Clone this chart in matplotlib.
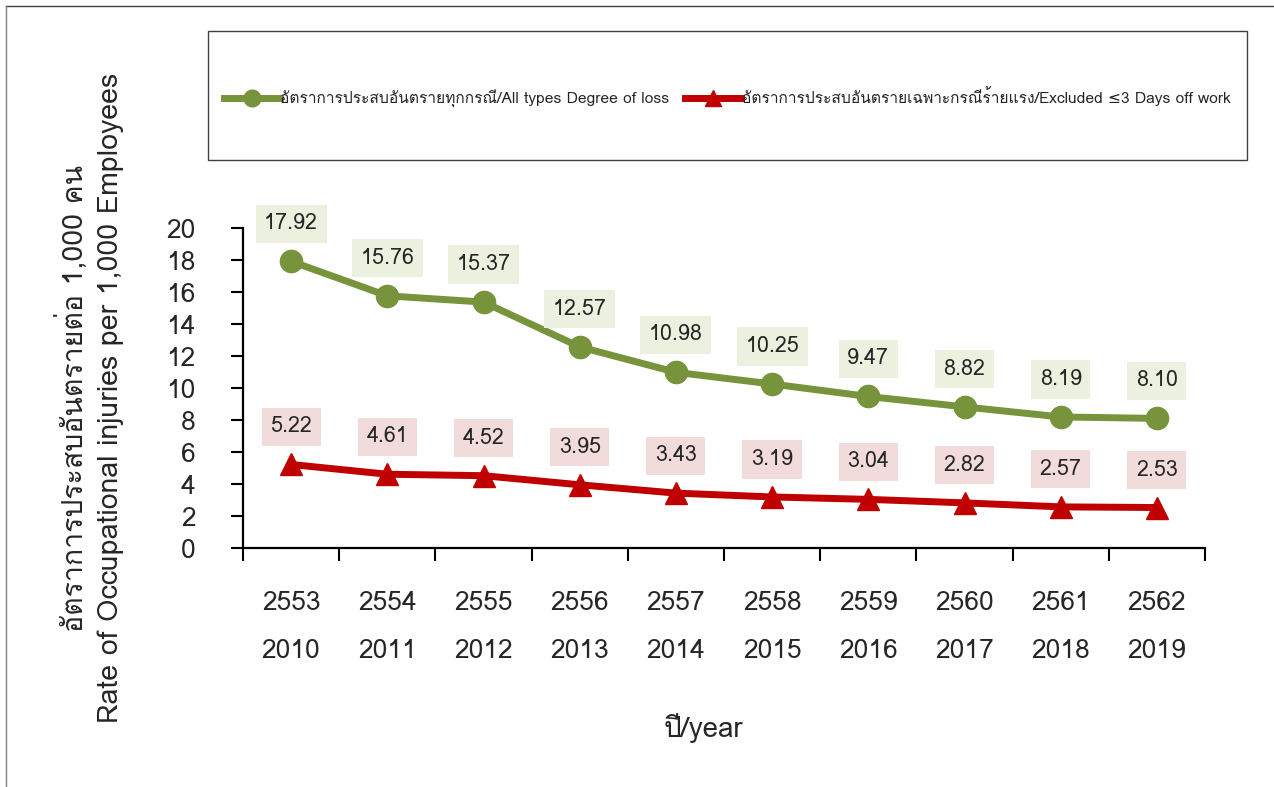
import matplotlib
matplotlib.use("Agg")
import matplotlib.pyplot as plt
from matplotlib import font_manager
from matplotlib.ft2font import FT2Font
from matplotlib.lines import Line2D
from matplotlib.patches import Rectangle

# ---------------- data ----------------
years_be = ["2553", "2554", "2555", "2556", "2557", "2558", "2559", "2560", "2561", "2562"]
years_ad = ["2010", "2011", "2012", "2013", "2014", "2015", "2016", "2017", "2018", "2019"]
all_types = [17.92, 15.76, 15.37, 12.57, 10.98, 10.25, 9.47, 8.82, 8.19, 8.10]
excluded = [5.22, 4.61, 4.52, 3.95, 3.43, 3.19, 3.04, 2.82, 2.57, 2.53]
label_all = "อัตราการประสบอันตรายทุกกรณี/All types Degree of loss"
label_exc = "อัตราการประสบอันตรายเฉพาะกรณีร้ายแรง/Excluded ≤3 Days off work"
ylabel = "อัตราการประสบอันตรายต่อ 1,000 คน\nRate of Occupational injuries per 1,000 Employees"
xlabel = "ปี/year"
yticks = [0, 2, 4, 6, 8, 10, 12, 14, 16, 18, 20]

# ---------------- fonts ----------------
thai_family = None
for fe in font_manager.fontManager.ttflist:
    try:
        f = FT2Font(fe.fname)
        if f.get_char_index(0x0E2D) and f.get_char_index(0x0E31):
            thai_family = fe.name
            break
    except Exception:
        continue
families = ([thai_family] if thai_family else []) + ["DejaVu Sans"]
plt.rcParams["font.family"] = families

GREEN = "#77933c"
RED = "#c00000"
GREEN_BG = "#ebf1de"
RED_BG = "#f2dcdb"
TXT = "#262626"

W, H = 1274, 787
fig = plt.figure(figsize=(W / 100, H / 100), dpi=100)
ax = fig.add_axes([243 / W, 1 - 548 / H, (1205 - 243) / W, (548 - 228) / H])

x = list(range(len(years_be)))
ax.plot(x, all_types, color=GREEN, lw=5, marker="o", ms=16, solid_capstyle="round",
        label=label_all, zorder=3)
ax.plot(x, excluded, color=RED, lw=5, marker="^", ms=16, solid_capstyle="round",
        label=label_exc, zorder=3)

for xi, v in zip(x, all_types):
    ax.annotate(f"{v:.2f}", (xi, v), xytext=(0, 27), textcoords="offset points",
                ha="center", va="center", fontsize=15.5, color=TXT,
                bbox=dict(boxstyle="square,pad=0.4", fc=GREEN_BG, ec="none"), zorder=4)
for xi, v in zip(x, excluded):
    ax.annotate(f"{v:.2f}", (xi, v), xytext=(0, 27), textcoords="offset points",
                ha="center", va="center", fontsize=15.5, color=TXT,
                bbox=dict(boxstyle="square,pad=0.4", fc=RED_BG, ec="none"), zorder=4)

ax.set_xlim(-0.5, len(x) - 0.5)
ax.set_ylim(0, 20)
ax.set_yticks(yticks)
ax.set_yticklabels([str(t) for t in yticks], fontsize=19, color=TXT)
ax.set_xticks(x)
ax.set_xticklabels([f"{b}\n{a}" for b, a in zip(years_be, years_ad)], fontsize=19,
                   linespacing=2.25, color=TXT)
ax.set_xticks([i - 0.5 for i in range(len(x) + 1)], minor=True)
ax.tick_params(axis="x", which="major", length=0, pad=31)
ax.tick_params(axis="x", which="minor", length=9, width=1.5, direction="out")
ax.tick_params(axis="y", length=9, width=1.5, direction="out", pad=25)
for s in ["top", "right"]:
    ax.spines[s].set_visible(False)
for s in ["left", "bottom"]:
    ax.spines[s].set_linewidth(1.6)

fig.text(703 / W, 1 - 728 / H, xlabel, ha="center", va="center", fontsize=20, color=TXT)
fig.text(90 / W, 1 - 398 / H, ylabel, ha="center", va="center", rotation=90,
         fontsize=20.5, linespacing=1.45, color=TXT)

# legend frame
fig.add_artist(Rectangle((208 / W, 1 - 160 / H), (1247 - 208) / W, (160 - 31) / H,
                         transform=fig.transFigure, fill=False, ec="#404040", lw=1))
handles = [Line2D([], [], color=GREEN, lw=5, marker="o", ms=12),
           Line2D([], [], color=RED, lw=5, marker="^", ms=12)]
fig.legend(handles, [label_all, label_exc], loc="center", ncol=2,
           bbox_to_anchor=(727 / W, 1 - 97 / H), frameon=False, fontsize=11.2,
           handlelength=3.6, handletextpad=0.05, columnspacing=1.0, labelcolor=TXT)

# outer border (top and left)
fig.add_artist(Line2D([6 / W, 1], [1 - 6 / H, 1 - 6 / H], transform=fig.transFigure,
                      color="#404040", lw=1))
fig.add_artist(Line2D([6 / W, 6 / W], [0, 1 - 6 / H], transform=fig.transFigure,
                      color="#808080", lw=1))

fig.savefig("out.png", dpi=100)
